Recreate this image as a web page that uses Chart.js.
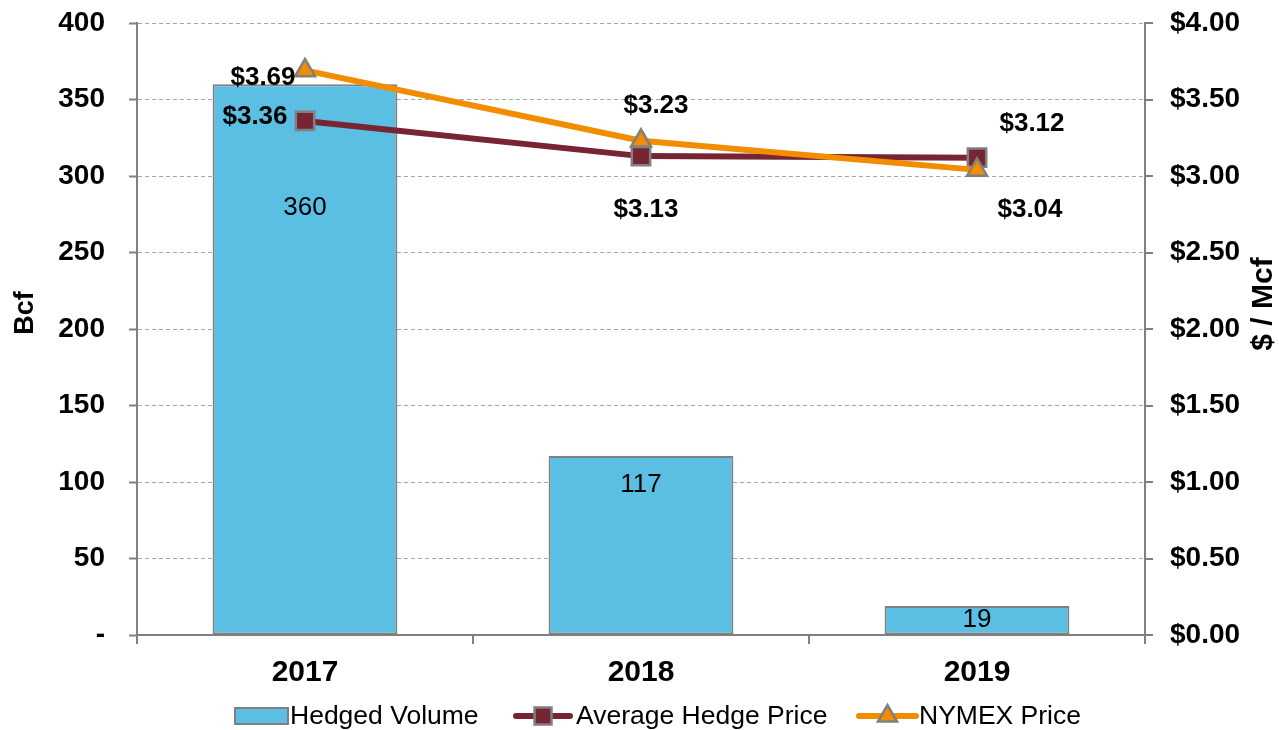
<!DOCTYPE html>
<html>
<head>
<meta charset="utf-8">
<script src="https://cdn.jsdelivr.net/npm/chart.js@4.4.1/dist/chart.umd.min.js"></script>
<style>
  html, body { margin: 0; padding: 0; background: #fff; }
  #wrap { width: 1279px; height: 730px; }
</style>
</head>
<body>
<div id="wrap"><canvas id="chart" width="1279" height="730"></canvas></div>
<script>
// Chart data
const YEARS = ['2017', '2018', '2019'];
const HEDGED_VOLUME = [360, 117, 19];          // Bcf
const AVG_HEDGE_PRICE = [3.36, 3.13, 3.12];    // $ / Mcf
const NYMEX_PRICE = [3.69, 3.23, 3.04];        // $ / Mcf

// Styling
const FONT = '"Liberation Sans", Arial, sans-serif';
const COLORS = {
  bar: '#5bbee3',
  avg: '#772433',
  nymex: '#f28c00',
  edge: '#808080',
  grid: '#a6a6a6'
};

// label placement, pixels relative to the mark
const BAR_LABEL_DROP = [124, 29, 14];
const AVG_LABEL_OFFSETS = [[-50, -4], [5, 54], [55, -34]];
const NYMEX_LABEL_OFFSETS = [[-42, 7], [15, -35], [53, 40]];

const money = v => '$' + v.toFixed(2);

const overlay = {
  id: 'overlay',
  afterDatasetsDraw(chart) {
    const ctx = chart.ctx;
    ctx.save();
    ctx.fillStyle = '#000';
    ctx.textAlign = 'center';
    ctx.textBaseline = 'middle';

    // bar values
    ctx.font = '26px ' + FONT;
    chart.getDatasetMeta(0).data.forEach((el, i) => {
      ctx.fillText(String(HEDGED_VOLUME[i]), el.x, el.y + BAR_LABEL_DROP[i]);
    });

    // price values
    ctx.font = 'bold 26px ' + FONT;
    [[1, AVG_HEDGE_PRICE, AVG_LABEL_OFFSETS], [2, NYMEX_PRICE, NYMEX_LABEL_OFFSETS]].forEach(([idx, vals, offs]) => {
      chart.getDatasetMeta(idx).data.forEach((el, i) => {
        ctx.fillText(money(vals[i]), el.x + offs[i][0], el.y + offs[i][1]);
      });
    });
    ctx.restore();
  },
  afterDraw(chart) {
    const ctx = chart.ctx;
    ctx.save();
    ctx.fillStyle = '#000';
    ctx.textAlign = 'center';
    ctx.textBaseline = 'middle';

    // axis titles, both read bottom to top
    ctx.save();
    ctx.translate(26, 313);
    ctx.rotate(-Math.PI / 2);
    ctx.font = 'bold 27px ' + FONT;
    ctx.fillText('Bcf', 0, 0);
    ctx.restore();

    ctx.save();
    ctx.translate(1264, 304);
    ctx.rotate(-Math.PI / 2);
    ctx.font = 'bold 30px ' + FONT;
    ctx.fillText('$ / Mcf', 0, 0);
    ctx.restore();

    // legend
    const ly = 716;
    ctx.font = '26.5px ' + FONT;
    ctx.textAlign = 'left';

    ctx.fillStyle = COLORS.bar;
    ctx.strokeStyle = COLORS.edge;
    ctx.lineWidth = 2;
    ctx.fillRect(235, ly - 8, 53, 16);
    ctx.strokeRect(235, ly - 8, 53, 16);
    ctx.fillStyle = '#000';
    ctx.fillText('Hedged Volume', 290, ly + 1);

    const lineItem = (x0, x1, color, style, radius, text, tx) => {
      ctx.strokeStyle = color;
      ctx.lineWidth = 6;
      ctx.lineCap = 'round';
      ctx.beginPath();
      ctx.moveTo(x0, ly);
      ctx.lineTo(x1, ly);
      ctx.stroke();
      ctx.fillStyle = color;
      ctx.strokeStyle = COLORS.edge;
      ctx.lineWidth = 2.5;
      Chart.helpers.drawPoint(ctx, { pointStyle: style, radius: radius, rotation: 0, borderWidth: 2.5 }, (x0 + x1) / 2, ly);
      ctx.fillStyle = '#000';
      ctx.fillText(text, tx, ly + 1);
    };
    lineItem(516, 570, COLORS.avg, 'rect', 12, 'Average Hedge Price', 576);
    lineItem(859, 916, COLORS.nymex, 'triangle', 11, 'NYMEX Price', 919);
    ctx.restore();
  }
};

const lineDataset = (label, data, color, style, radius, order) => ({
  type: 'line',
  label: label,
  data: data,
  yAxisID: 'y2',
  borderColor: color,
  backgroundColor: color,
  borderWidth: 6,
  tension: 0,
  pointStyle: style,
  pointRadius: radius,
  pointBackgroundColor: color,
  pointBorderColor: COLORS.edge,
  pointBorderWidth: 2.5,
  order: order
});

// fixed axis widths; drop the label overflow padding so the plot top sits at the layout padding
const fixWidth = w => scale => {
  scale.width = w;
  scale.paddingTop = 0;
  scale.paddingBottom = 0;
};

new Chart(document.getElementById('chart'), {
  type: 'bar',
  data: {
    labels: YEARS,
    datasets: [
      {
        type: 'bar',
        label: 'Hedged Volume',
        data: HEDGED_VOLUME,
        yAxisID: 'y',
        backgroundColor: COLORS.bar,
        borderColor: COLORS.edge,
        borderWidth: 2,
        borderSkipped: false,
        categoryPercentage: 1,
        barPercentage: 0.55,
        order: 3
      },
      lineDataset('Average Hedge Price', AVG_HEDGE_PRICE, COLORS.avg, 'rect', 13, 2),
      lineDataset('NYMEX Price', NYMEX_PRICE, COLORS.nymex, 'triangle', 11.5, 1)
    ]
  },
  options: {
    responsive: false,
    animation: false,
    layout: { padding: { top: 23, left: 0, right: 0, bottom: 0 } },
    plugins: {
      legend: { display: false },
      tooltip: { enabled: false }
    },
    scales: {
      x: {
        offset: true,
        grid: {
          offset: true,
          drawOnChartArea: false,
          tickLength: 9,
          color: COLORS.edge,
          lineWidth: 2
        },
        border: { color: COLORS.edge, width: 2 },
        ticks: {
          color: '#000',
          padding: 11,
          font: { family: FONT, size: 30, weight: 'bold' }
        },
        afterFit(scale) { scale.height = 95; }
      },
      y: {
        position: 'left',
        min: 0,
        max: 400,
        ticks: {
          stepSize: 50,
          color: '#000',
          padding: 24,
          font: { family: FONT, size: 28, weight: 'bold' },
          callback: v => (v === 0 ? '-' : v)
        },
        grid: {
          color: ctx => (ctx.tick && ctx.tick.value === 0 ? 'rgba(0,0,0,0)' : COLORS.grid),
          lineWidth: 1,
          tickLength: 8,
          tickColor: COLORS.edge,
          tickWidth: 2
        },
        border: { color: COLORS.edge, width: 2, dash: [4, 3] },
        afterFit: fixWidth(137)
      },
      y2: {
        position: 'right',
        min: 0,
        max: 4,
        ticks: {
          stepSize: 0.5,
          color: '#000',
          padding: 17,
          font: { family: FONT, size: 28, weight: 'bold' },
          callback: v => money(v)
        },
        grid: {
          drawOnChartArea: false,
          tickLength: 8,
          color: COLORS.edge,
          lineWidth: 2
        },
        border: { color: COLORS.edge, width: 2 },
        afterFit: fixWidth(134)
      }
    }
  },
  plugins: [overlay]
});
</script>
</body>
</html>
